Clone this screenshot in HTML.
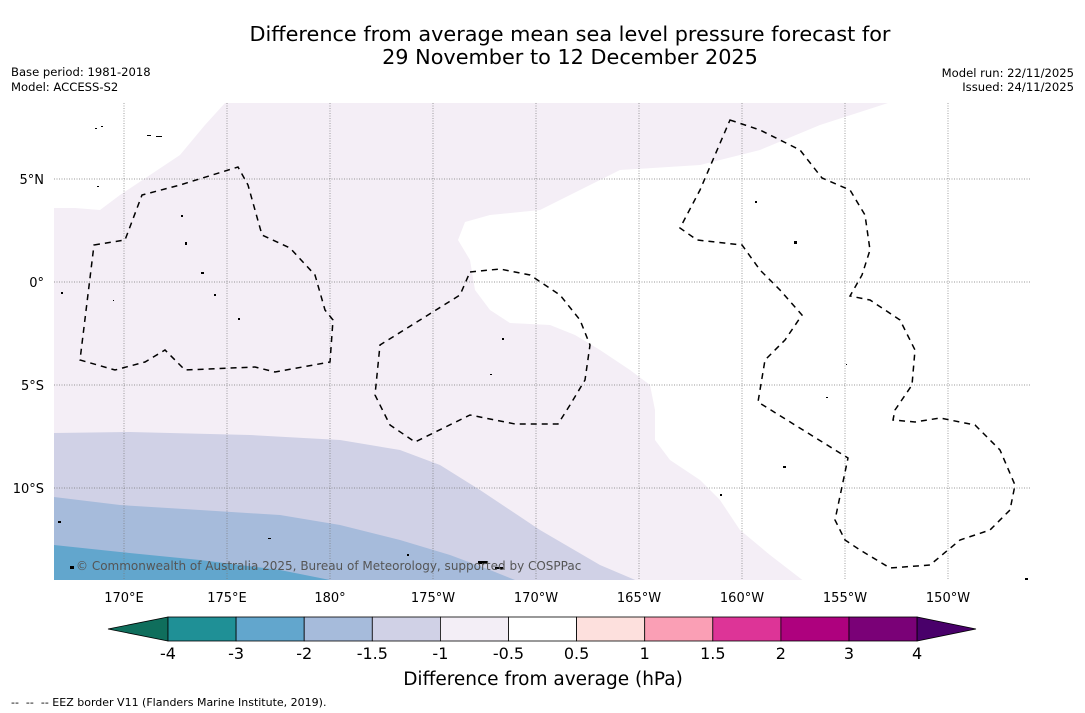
<!DOCTYPE html>
<html><head><meta charset="utf-8">
<style>
body{margin:0;background:#fff;width:1085px;height:713px;overflow:hidden;font-family:"DejaVu Sans","Liberation Sans",sans-serif;}
svg{display:block}
</style></head>
<body>
<svg id="chart" width="1085" height="713" viewBox="0 0 1085 713" font-family="DejaVu Sans, Liberation Sans, sans-serif">
<text x="570" y="41" font-size="20.8" text-anchor="middle">Difference from average mean sea level pressure forecast for</text>
<text x="570" y="64" font-size="20.8" text-anchor="middle">29 November to 12 December 2025</text>
<text x="11" y="76" font-size="11.6">Base period: 1981-2018</text>
<text x="11" y="91" font-size="11.6">Model: ACCESS-S2</text>
<text x="1074" y="77" font-size="11.6" text-anchor="end">Model run: 22/11/2025</text>
<text x="1074" y="91" font-size="11.6" text-anchor="end">Issued: 24/11/2025</text>

<g>
<clipPath id="mc"><rect x="54" y="103" width="977" height="477"/></clipPath>
<g clip-path="url(#mc)">
<rect x="54" y="103" width="977" height="477" fill="#fff"/>
<path fill="#f4eef6" d="M54,208 L75,208 L100,210 L120,195 L150,175 L180,155 L205,125 L225,103 L888,103 L820,125 L760,150 L700,165 L620,170 L570,195 L540,210 L490,215 L465,222 L458,240 L470,260 L475,290 L490,310 L510,323 L550,325 L575,335 L600,350 L630,370 L650,385 L655,410 L655,440 L670,460 L700,480 L720,500 L740,530 L770,555 L805,582 L54,582 Z"/>
<path fill="#d0d1e6" d="M54,433 L130,432 L250,435 L340,440 L400,450 L440,465 L480,490 L540,530 L600,565 L640,582 L54,582 Z"/>
<path fill="#a6bbdb" d="M54,497 L120,505 L200,510 L280,515 L340,525 L400,540 L450,555 L490,570 L520,582 L54,582 Z"/>
<path fill="#62a6cd" d="M54,545 L120,552 L200,560 L280,570 L340,582 L54,582 Z"/>
<g id="grid" stroke="#777" stroke-width="0.7" stroke-dasharray="1,1.5"></g>
<g fill="none" stroke="#000" stroke-width="1.5" stroke-dasharray="6,5">
<path d="M94,245 L125,240 L142,195 L180,185 L238,167 L248,185 L262,235 L290,248 L315,275 L325,310 L333,320 L330,362 L275,372 L255,367 L185,370 L165,350 L145,362 L115,370 L80,360 Z"/>
<path d="M470,272 L500,269 L530,275 L560,295 L580,320 L590,345 L585,380 L570,405 L558,424 L515,424 L470,415 L415,442 L390,425 L375,395 L380,345 L420,320 L460,295 Z"/>
<path d="M730,120 L760,130 L800,150 L822,178 L850,190 L865,215 L870,250 L862,275 L850,296 L870,300 L900,320 L915,350 L912,385 L895,410 L893,420 L915,422 L940,418 L975,425 L1000,450 L1015,485 L1010,510 L990,530 L960,540 L930,565 L890,568 L860,550 L845,540 L835,520 L848,458 L758,402 L765,360 L785,340 L802,315 L780,290 L760,270 L742,245 L697,240 L680,228 L700,190 Z"/>
</g>
<g fill="#000">
<rect x="147" y="135" width="4" height="1"/><rect x="156" y="136" width="6" height="1"/><rect x="95" y="128" width="2" height="1"/><rect x="101" y="126" width="2" height="1"/><rect x="181" y="215" width="2" height="2"/><rect x="185" y="242" width="2" height="3"/><rect x="201" y="272" width="3" height="2"/><rect x="214" y="294" width="2" height="2"/><rect x="238" y="318" width="2" height="2"/><rect x="755" y="201" width="2" height="2"/><rect x="794" y="241" width="3" height="3"/><rect x="783" y="466" width="3" height="2"/><rect x="720" y="494" width="2" height="2"/><rect x="478" y="561" width="10" height="3"/><rect x="495" y="567" width="8" height="2"/><rect x="58" y="521" width="3" height="2"/><rect x="70" y="566" width="4" height="3"/><rect x="407" y="554" width="2" height="2"/><rect x="268" y="538" width="3" height="1"/><rect x="502" y="338" width="2" height="2"/><rect x="490" y="374" width="2" height="1"/><rect x="826" y="397" width="2" height="1"/><rect x="846" y="364" width="1" height="1"/><rect x="1025" y="578" width="3" height="2"/><rect x="61" y="292" width="2" height="2"/><rect x="113" y="300" width="1" height="1"/><rect x="97" y="186" width="2" height="1"/>
</g>
</g>
<text x="76" y="570" font-size="12" fill="#555">© Commonwealth of Australia 2025, Bureau of Meteorology, supported by COSPPac</text>
<g id="axislabels" font-size="13"></g>
</g>

<g id="colorbar"></g>
<text x="543" y="685" font-size="18.5" text-anchor="middle">Difference from average (hPa)</text>
<text x="11" y="706" font-size="11" xml:space="preserve">--  --  -- EEZ border V11 (Flanders Marine Institute, 2019).</text>
</svg>
<script>
const lonTicks=[170,175,180,-175,-170,-165,-160,-155,-150];
const lonLabels=["170°E","175°E","180°","175°W","170°W","165°W","160°W","155°W","150°W"];
const latTicks=[5,0,-5,-10];
const latLabels=["5°N","0°","5°S","10°S"];
const levelLabels=["-4","-3","-2","-1.5","-1","-0.5","0.5","1","1.5","2","3","4"];
const levelColors=["#1f9096","#62a6cd","#a6bbdb","#d0d1e6","#f3eef6","#ffffff","#fde0dd","#fa9fb5","#dd3497","#ae017e","#7a0177"];
const ns="http://www.w3.org/2000/svg";
const lonX=l=>{const e=l<0?360+l:l;return 124+(e-170)*20.6;};
const latY=l=>282-l*20.6;
const grid=document.getElementById('grid'),al=document.getElementById('axislabels');
lonTicks.forEach((l,i)=>{
 const x=lonX(l);
 const ln=document.createElementNS(ns,'line');
 
 
 ln.setAttribute('x1',x);ln.setAttribute('x2',x);ln.setAttribute('y1',103);ln.setAttribute('y2',580);
 grid.appendChild(ln);
 const t=document.createElementNS(ns,'text');
 
 
 t.setAttribute('x',x);t.setAttribute('y',602);t.setAttribute('text-anchor','middle');
 t.textContent=lonLabels[i];al.appendChild(t);
});
latTicks.forEach((l,i)=>{
 const y=latY(l);
 const ln=document.createElementNS(ns,'line');
 
 
 ln.setAttribute('x1',54);ln.setAttribute('x2',1031);ln.setAttribute('y1',y);ln.setAttribute('y2',y);
 grid.appendChild(ln);
 const t=document.createElementNS(ns,'text');
 
 
 t.setAttribute('x',44);t.setAttribute('y',y+5);t.setAttribute('text-anchor','end');
 t.textContent=latLabels[i];al.appendChild(t);
});
const cb=document.getElementById('colorbar');
const x0=168,w=68.1,y0=617,h=24;
const lt=document.createElementNS(ns,'polygon');


lt.setAttribute('points',`${x0},${y0} ${x0},${y0+h} 108,${y0+h/2}`);lt.setAttribute('fill','#0f6e5c');lt.setAttribute('stroke','#000');lt.setAttribute('stroke-width','0.8');
cb.appendChild(lt);
levelColors.forEach((c,i)=>{
 const r=document.createElementNS(ns,'rect');
 
 
 r.setAttribute('x',x0+i*w);r.setAttribute('y',y0);r.setAttribute('width',w);r.setAttribute('height',h);r.setAttribute('fill',c);r.setAttribute('stroke','#000');r.setAttribute('stroke-width','0.8');
 cb.appendChild(r);
});
const xe=x0+levelColors.length*w;
const rt=document.createElementNS(ns,'polygon');


rt.setAttribute('points',`${xe},${y0} ${xe},${y0+h} 976,${y0+h/2}`);rt.setAttribute('fill','#49006a');rt.setAttribute('stroke','#000');rt.setAttribute('stroke-width','0.8');
cb.appendChild(rt);
levelLabels.forEach((s,i)=>{
 const t=document.createElementNS(ns,'text');
 
 
 t.setAttribute('x',x0+i*w);t.setAttribute('y',659);t.setAttribute('text-anchor','middle');t.setAttribute('font-size','16');
 t.textContent=s;cb.appendChild(t);
});
</script>
</body></html>
